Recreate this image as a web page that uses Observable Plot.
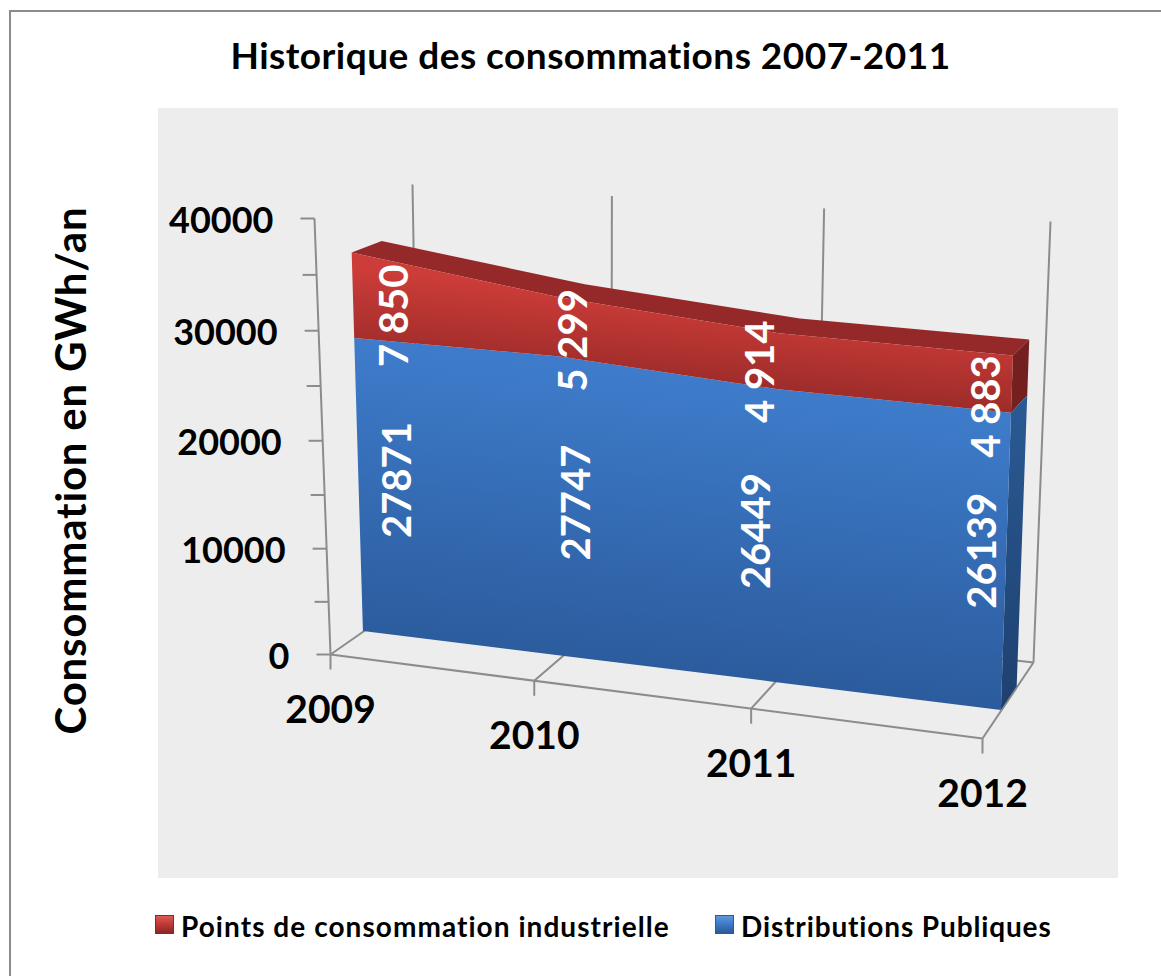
<!DOCTYPE html>
<html><head><meta charset="utf-8">
<script src="https://cdn.jsdelivr.net/npm/d3@7"></script>
<script src="https://cdn.jsdelivr.net/npm/@observablehq/plot@0.6"></script>
<style>
html,body{margin:0;padding:0;background:#fff;overflow:hidden;width:1161px;height:976px}
#page{position:relative;width:1161px;height:976px;overflow:hidden;font-family:Lato,sans-serif;font-weight:700;color:#000}
#frame{position:absolute;left:9px;top:10px;width:1300px;height:1100px;border-left:2px solid #8c8c8c;border-top:2px solid #8c8c8c}
#title{position:absolute;left:0;top:32px;width:1181px;text-align:center;font-size:37px;letter-spacing:.47px;line-height:46px;white-space:nowrap}
#chart{position:absolute;left:158px;top:108px}
#legend{position:absolute;left:0;top:908px;height:36px;width:1161px;font-size:28px;line-height:36px;white-space:nowrap}
.sw{position:absolute;top:7px;width:19px;height:19px;box-sizing:border-box}
.lb{position:absolute;top:0}
.ytitle text{letter-spacing:.8px}
</style></head><body>
<div id="page">
<div id="frame"></div>
<div id="title">Historique des consommations 2007-2011</div>
<div id="chart"></div>
<div id="legend">
<div class="sw" style="left:155px;background:linear-gradient(#dc5a55,#c23a36 45%,#8a2826);border:1px solid #8a2826"></div>
<div class="lb" style="left:181px;letter-spacing:1.05px">Points de consommation industrielle</div>
<div class="sw" style="left:715px;background:linear-gradient(#5f97dd,#3f7cc8 45%,#2a5a98);border:1px solid #2a5a98"></div>
<div class="lb" style="left:741px;letter-spacing:.87px">Distributions Publiques</div>
</div>
</div>
<script>
// --- data ---
const years = [2009, 2010, 2011, 2012];
const publiques = [27871, 27747, 26449, 26139];
const industrielle = [7850, 5299, 4914, 4883];
const industrielleLabels = ["7 850", "5 299", "4 914", "4 883"];
const valueTicks = [0, 10000, 20000, 30000, 40000];
const minorTicks = [5000, 15000, 25000, 35000];
const yMax = 40000;

// --- 3D box of the chart as the picture shows it (page pixels) ---
const box = {
  frontBottom: [[330, 654], [982, 738]], backBottom: [[419, 592], [1033, 662]],
  frontTop: [[314, 218], [997, 265]], backTop: [[412, 184], [1050, 221]]
};
const depthFront = 0.37, depthBack = 0.68;
const lerp = (a, b, f) => [a[0] + (b[0] - a[0]) * f, a[1] + (b[1] - a[1]) * f];
const warp = (f, k) => f / (f + k * (1 - f));
function project(i, value, depth) {
  const u = warp(i / (years.length - 1), 1.1), g = warp(value / yMax, 1.04);
  const bottom = lerp(lerp(box.frontBottom[0], box.frontBottom[1], u), lerp(box.backBottom[0], box.backBottom[1], u), depth);
  const top = lerp(lerp(box.frontTop[0], box.frontTop[1], u), lerp(box.backTop[0], box.backTop[1], u), depth);
  return lerp(bottom, top, g);
}
const band = (p, q) => ({x1: p[0], y1: p[1], x2: q[0], y2: q[1]});
const idx = years.map((_, i) => i);
const total = idx.map(i => publiques[i] + industrielle[i]);
const last = years.length - 1;

// faces
const blueFront = idx.map(i => band(project(i, 0, depthFront), project(i, publiques[i], depthFront)));
const redFront = idx.map(i => band(project(i, publiques[i], depthFront), project(i, total[i], depthFront)));
const redTop = idx.map(i => band(project(i, total[i], depthFront), project(i, total[i], depthBack)));
const side = (lo, hi) => [depthFront, depthBack].map(d => band(project(last, lo, d), project(last, hi, d)));
const blueSide = side(0, publiques[last]);
const redSide = side(publiques[last], total[last]);

// axes and wall lines
const seg = (p, q) => ({x1: p[0], y1: p[1], x2: q[0], y2: q[1]});
const wall = [
  ...idx.map(i => seg(project(i, 0, 1), project(i, yMax, 1))),
  seg(project(0, 0, 0), project(0, yMax, 0)),
  seg(project(0, 0, 0), project(last, 0, 0)),
  seg(project(0, 0, 1), project(last, 0, 1)),
  ...idx.map(i => seg(project(i, 0, 0), project(i, 0, 1))),
  ...idx.map(i => { const p = project(i, 0, 0); return seg(p, [p[0], p[1] + 15]); }),
  ...[...valueTicks, ...minorTicks].map(v => { const p = project(0, v, 0); return seg(p, [p[0] - 14, p[1]]); })
];
const yearText = idx.map(i => { const p = project(i, 0, 0); return {x: p[0], y: p[1] + 56, t: String(years[i])}; });
const valueText = valueTicks.map(v => { const p = project(0, v, 0); return {x: p[0] - 41, y: p[1] + 3, t: String(v)}; });

// value labels: centred on each band, then nudged where the picture has them
const nudgeXBlue = [39, 16, -20, -23], nudgeXRed = [42, 14, -18, -25];
const nudgeBlue = [-5, -4, -5, -11], nudgeRed = [20, 13, 10, 22];
const labels = idx.flatMap(i => {
  const a = project(i, 0, depthFront), b = project(i, publiques[i], depthFront), c = project(i, total[i], depthFront);
  return [
    {x: (a[0] + b[0]) / 2 + nudgeXBlue[i], y: (a[1] + b[1]) / 2 + nudgeBlue[i], t: String(publiques[i])},
    {x: (b[0] + c[0]) / 2 + nudgeXRed[i], y: (b[1] + c[1]) / 2 + nudgeRed[i], t: industrielleLabels[i]}
  ];
});

const defs = () => {
  const s = d3.create("svg:g");
  const d = s.append("defs");
  const grad = (id, x1, y1, x2, y2, stops) => {
    const g = d.append("linearGradient").attr("id", id).attr("gradientUnits", "userSpaceOnUse")
      .attr("x1", x1 - 158).attr("y1", y1 - 108).attr("x2", x2 - 158).attr("y2", y2 - 108);
    stops.forEach(([o, c]) => g.append("stop").attr("offset", o).attr("stop-color", c));
  };
  grad("gBlue", 680, 375, 647, 675, [[0, "#3e7ccb"], [1, "#2b5b9c"]]);
  grad("gRed", 680, 300, 672, 385, [[0, "#cc3c38"], [1, "#9b2b29"]]);
  grad("gBlueSide", 1020, 400, 1010, 700, [[0, "#2a5a94"], [1, "#1e4170"]]);
  return s.node();
};

const faceOpts = (fill) => ({x1: "x1", y1: "y1", x2: "x2", y2: "y2", fill});
const plot = Plot.plot({
  width: 960, height: 770, margin: 0,
  x: {domain: [158, 1118], range: [0, 960], axis: null},
  y: {domain: [108, 878], range: [0, 770], axis: null},
  style: {background: "#ededed", fontFamily: "Lato, sans-serif", overflow: "visible"},
  marks: [
    defs,
    Plot.link(wall, {x1: "x1", y1: "y1", x2: "x2", y2: "y2", stroke: "#8c8c8c", strokeWidth: 2}),
    Plot.area(redTop, faceOpts("#95292a")),
    Plot.area(redSide, faceOpts("#74201f")),
    Plot.area(blueSide, faceOpts("url(#gBlueSide)")),
    Plot.area(blueFront, faceOpts("url(#gBlue)")),
    Plot.area(redFront, faceOpts("url(#gRed)")),
    Plot.text(valueText, {x: "x", y: "y", text: "t", textAnchor: "end", fontSize: 36, fontWeight: 700, fill: "#000"}),
    Plot.text(yearText, {x: "x", y: "y", text: "t", fontSize: 39, fontWeight: 700, fill: "#000"}),
    Plot.text(["Consommation en GWh/an"], {x: [72], y: [470], text: d => d, rotate: -90, fontSize: 42, fontWeight: 700, fill: "#000", className: "ytitle"}),
    Plot.text(labels, {x: "x", y: "y", text: "t", rotate: -90, fontSize: 40, fontWeight: 700, fill: "#fff"})
  ]
});
document.getElementById("chart").append(plot);
</script>
</body></html>
